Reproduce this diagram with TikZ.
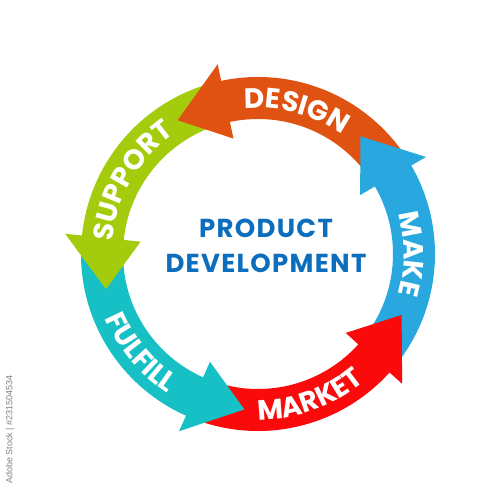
\documentclass[tikz,border=0pt]{standalone}
\usepackage{fontspec}
\setmainfont{Poppins}
\newfontfamily\stockfont{Liberation Sans}
\usetikzlibrary{decorations.text}

\definecolor{designorange}{RGB}{224,82,18}
\definecolor{makeblue}{RGB}{41,168,224}
\definecolor{marketred}{RGB}{250,10,10}
\definecolor{fulfillteal}{RGB}{22,192,196}
\definecolor{supportgreen}{RGB}{165,204,12}
\definecolor{titleblue}{RGB}{12,110,188}

\newcommand{\ringfont}{\fontsize{28}{28}\selectfont\bfseries}

\tikzset{
  ringlabel/.style={decorate, decoration={text along path, text align=center,
    text color=white, text={|\ringfont|#1}}}
}

\begin{document}
\begin{tikzpicture}[x=1pt, y=1pt]
\useasboundingbox (-258,-246) rectangle (242,254);

\fill[makeblue] (-37:177) arc[start angle=-37, end angle=31, radius=177] -- (31:135) arc[start angle=31, end angle=-37, radius=135] -- cycle;
\fill[designorange] (35:177) arc[start angle=35, end angle=103, radius=177] -- (103:135) arc[start angle=103, end angle=35, radius=135] -- cycle;
\fill[supportgreen] (107:177) arc[start angle=107, end angle=175, radius=177] -- (175:135) arc[start angle=175, end angle=107, radius=135] -- cycle;
\fill[fulfillteal] (179:177) arc[start angle=179, end angle=247, radius=177] -- (247:135) arc[start angle=247, end angle=179, radius=135] -- cycle;
\fill[marketred] (251:177) arc[start angle=251, end angle=319, radius=177] -- (319:135) arc[start angle=319, end angle=251, radius=135] -- cycle;

\fill[makeblue] (30:194) -- (49:156) -- (30:118) -- cycle;
\fill[designorange] (102:194) -- (121:156) -- (102:118) -- cycle;
\fill[supportgreen] (174:194) -- (193:156) -- (174:118) -- cycle;
\fill[fulfillteal] (246:194) -- (265:156) -- (246:118) -- cycle;
\fill[marketred] (318:194) -- (337:156) -- (318:118) -- cycle;

\path[ringlabel=DESIGN] (115:146) arc[start angle=115, end angle=35, radius=146];
\path[ringlabel=MAKE] (40:146) arc[start angle=40, end angle=-40, radius=146];
\path[ringlabel=SUPPORT] (190:146) arc[start angle=190, end angle=110, radius=146];
\path[ringlabel=MARKET] (-110:166) arc[start angle=-110, end angle=-30, radius=166];
\path[ringlabel=FULFILL] (180:166) arc[start angle=180, end angle=260, radius=166];

\node[align=center, text=titleblue, font=\fontsize{26}{35}\selectfont\bfseries\addfontfeature{LetterSpace=5}] (title) at (8,8) {PRODUCT\\DEVELOPMENT};
\node[rotate=90, anchor=east, text=gray, font=\stockfont\fontsize{9}{9}\selectfont] (stockid) at (-248,-118) {Adobe Stock | \#231504534};
\end{tikzpicture}
\end{document}
